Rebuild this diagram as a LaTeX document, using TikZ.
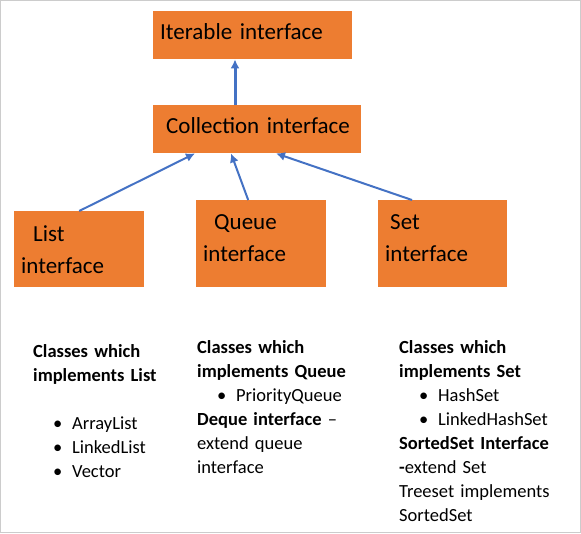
\documentclass[tikz,border=0pt]{standalone}
\usepackage{fontspec}
\setmainfont{Carlito}
\usetikzlibrary{positioning, arrows.meta}
\definecolor{boxorange}{HTML}{ED7D31}
\definecolor{linkblue}{HTML}{4472C4}
\newcommand{\bitem}[1]{\hspace*{20pt}\makebox[19pt][l]{\textbullet}#1}

\begin{document}
\begin{tikzpicture}[x=1pt,y=-1pt,
		ibox/.style={fill=boxorange,inner xsep=7pt,inner ysep=0pt,align=left,anchor=north west,font=\fontsize{23}{32}\selectfont},
		clsnote/.style={inner sep=0pt,align=left,anchor=north west,text width=170pt,font=\fontsize{18.5}{24}\selectfont},
		uparrow/.style={linkblue,line width=2pt,-{Latex[length=9pt,width=9pt]}}]
		\useasboundingbox (0,0) rectangle (581,533);
		\draw[gray!40,line width=1pt] (0.5,0.5) rectangle (580.5,532.5);
	
		% the interfaces
		\node[ibox,text width=185pt,minimum height=48pt,text depth=6.5pt] (iter) at (153,11) {Iterable interface};
		\node[ibox,text width=194pt,minimum height=48pt,text depth=6.5pt] (coll) at (153,105) {\hspace*{6pt}Collection interface};
		\node[ibox,text width=116pt,minimum height=76pt] (list) at (14,211) {\hspace*{12pt}List\\interface};
		\node[ibox,text width=116pt,minimum height=87pt,text depth=44pt] (queue) at (196,200) {\hspace*{11pt}Queue\\interface};
		\node[ibox,text width=115pt,minimum height=87pt,text depth=44pt] (set) at (378,200) {\hspace*{5pt}Set\\interface};
	
		\draw[uparrow,line width=3pt] ([xshift=82pt]coll.north west) -- ([xshift=82pt]iter.south west);
		\draw[uparrow] (list.north) -- ([xshift=42pt]coll.south west);
		\draw[uparrow] ([xshift=-13pt]queue.north) -- ([xshift=78pt]coll.south west);
		\draw[uparrow] ([xshift=34pt]set.north west) -- ([xshift=123pt]coll.south west);
	
		% the classes under each interface
		\node[clsnote] (listcls) at (33,344) {\textbf{Classes which}\\\textbf{implements List}\\[24pt]\bitem{ArrayList}\\\bitem{LinkedList}\\\bitem{Vector}};
		\node[clsnote] (queuecls) at (197,340) {\textbf{Classes which}\\\textbf{implements Queue}\\\bitem{PriorityQueue}\\\textbf{Deque interface} --\\extend queue\\interface};
		\node[clsnote] (setcls) at (399,340) {\textbf{Classes which}\\\textbf{implements Set}\\\bitem{HashSet}\\\bitem{LinkedHashSet}\\\textbf{SortedSet Interface}\\\textbf{-}extend Set\\Treeset implements\\SortedSet};
	\end{tikzpicture}
\end{document}
